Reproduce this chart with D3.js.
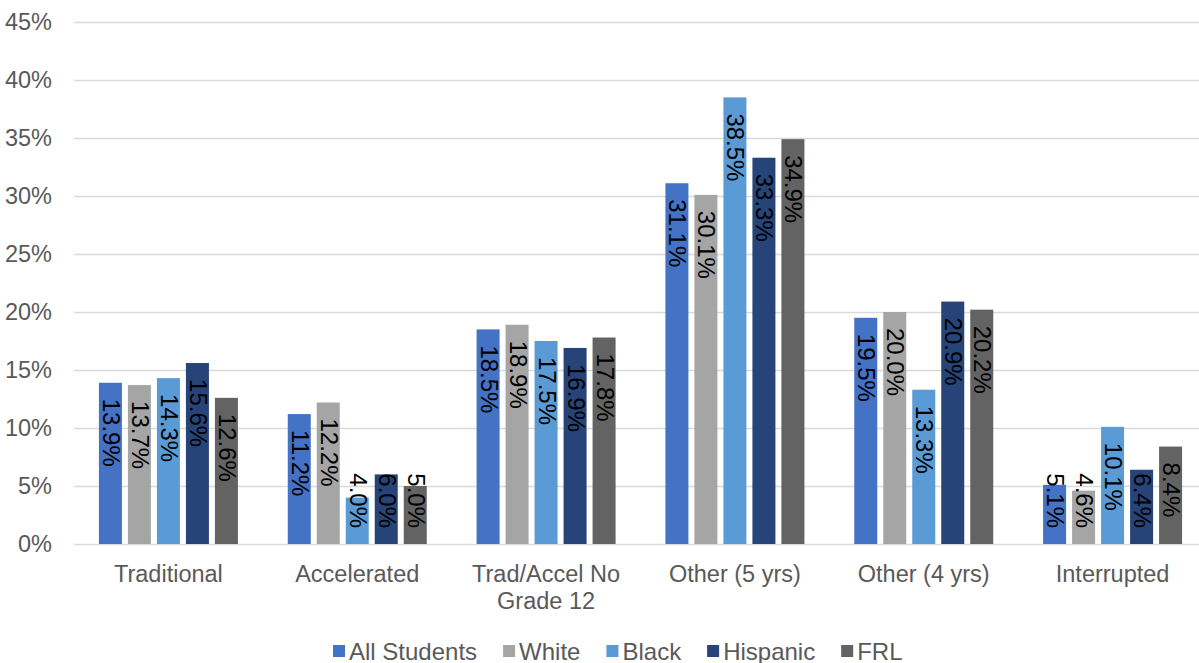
<!DOCTYPE html>
<html>
<head>
<meta charset="utf-8">
<script src="https://cdn.jsdelivr.net/npm/d3@7/dist/d3.min.js"></script>
<style>
  html, body { margin: 0; padding: 0; background: #fff; }
  svg { display: block; font-family: "Liberation Sans", Arial, sans-serif; }
</style>
</head>
<body>
<svg id="chart" width="1199" height="663"></svg>
<script>
(function () {
  'use strict';

  var categories = ['Traditional', 'Accelerated', 'Trad/Accel No Grade 12', 'Other (5 yrs)', 'Other (4 yrs)', 'Interrupted'];
  var seriesNames = ['All Students', 'White', 'Black', 'Hispanic', 'FRL'];
  var allStudents = [13.9, 11.2, 18.5, 31.1, 19.5, 5.1];
  var white = [13.7, 12.2, 18.9, 30.1, 20.0, 4.6];
  var black = [14.3, 4.0, 17.5, 38.5, 13.3, 10.1];
  var hispanic = [15.6, 6.0, 16.9, 33.3, 20.9, 6.4];
  var frl = [12.6, 5.0, 17.8, 34.9, 20.2, 8.4];
  var yTicks = [0, 5, 10, 15, 20, 25, 30, 35, 40, 45];

  var seriesValues = [allStudents, white, black, hispanic, frl];
  var colors = ['#4472C4', '#A5A5A5', '#5B9BD5', '#264478', '#636363'];

  var svg = d3.select('#chart');
  var left = 74, right = 1207, top = 22, bottom = 544;

  var y = d3.scaleLinear().domain([0, 45]).range([bottom, top]);
  var x0 = d3.scaleBand().domain(categories).range([left, right]).padding(0);
  var groupW = 139;
  var x1 = d3.scaleBand().domain(seriesNames).range([0, groupW])
    .paddingInner(6 / 29).paddingOuter(0);
  var groupOff = (x0.bandwidth() - groupW) / 2;

  // gridlines + y labels
  var yAxis = svg.append('g')
    .attr('transform', 'translate(' + left + ',0)')
    .call(d3.axisLeft(y).tickValues(yTicks)
      .tickSize(-(right - left)).tickPadding(22)
      .tickFormat(function (d) { return d + '%'; }));
  yAxis.select('.domain').remove();
  yAxis.selectAll('.tick line').attr('stroke', '#D9D9D9').attr('stroke-width', 1.3);
  yAxis.selectAll('.tick text')
    .attr('fill', '#595959').attr('font-size', '23.5px')
    .attr('font-family', '"Liberation Sans", Arial, sans-serif');

  // bars
  var rows = categories.map(function (c, i) {
    return seriesNames.map(function (s, j) {
      return { cat: c, series: s, value: seriesValues[j][i], color: colors[j] };
    });
  });

  var groups = svg.append('g').selectAll('g')
    .data(rows)
    .enter()
    .append('g')
    .attr('transform', function (d, i) { return 'translate(' + (x0(categories[i]) + groupOff) + ',0)'; });

  groups.selectAll('rect')
    .data(function (d) { return d; })
    .enter()
    .append('rect')
    .attr('x', function (d) { return x1(d.series); })
    .attr('y', function (d) { return y(d.value); })
    .attr('width', x1.bandwidth())
    .attr('height', function (d) { return y(0) - y(d.value); })
    .attr('fill', function (d) { return d.color; });

  var fmt = d3.format('.1f');
  groups.selectAll('text')
    .data(function (d) { return d; })
    .enter()
    .append('text')
    .attr('font-size', '24px')
    .attr('fill', '#000')
    .attr('dominant-baseline', 'central')
    .text(function (d) { return fmt(d.value) + '%'; })
    .attr('transform', function (d) {
      var len = this.getComputedTextLength();
      var start = Math.min(y(d.value) + 16, bottom - 16 - len);
      var cx = x1(d.series) + x1.bandwidth() / 2 + 1;
      return 'translate(' + cx + ',' + start + ') rotate(90)';
    });

  // category labels, wrapped to the band width
  var xAxis = svg.append('g').attr('class', 'xlabels');
  categories.forEach(function (c) {
    var cx = x0(c) + x0.bandwidth() / 2;
    var t = xAxis.append('text')
      .attr('x', cx)
      .attr('y', 582)
      .attr('text-anchor', 'middle')
      .attr('font-size', '23.5px')
      .attr('fill', '#595959');
    var words = c.split(' ');
    var line = [];
    var tspan = t.append('tspan').attr('x', cx).attr('dy', 0);
    words.forEach(function (w) {
      line.push(w);
      tspan.text(line.join(' '));
      if (tspan.node().getComputedTextLength() > 165 && line.length > 1) {
        line.pop();
        tspan.text(line.join(' '));
        line = [w];
        tspan = t.append('tspan').attr('x', cx).attr('dy', 27).text(w);
      }
    });
  });

  // legend
  var legend = svg.append('g').attr('transform', 'translate(333,651)');
  var lx = 0;
  seriesNames.forEach(function (s, j) {
    var item = legend.append('g').attr('transform', 'translate(' + lx + ',0)');
    item.append('rect')
      .attr('x', 0).attr('y', -6).attr('width', 12).attr('height', 12)
      .attr('fill', colors[j]);
    var t = item.append('text')
      .attr('x', 16).attr('y', 0)
      .attr('dominant-baseline', 'central')
      .attr('font-size', '24px')
      .attr('fill', '#595959')
      .text(s);
    lx += 16 + t.node().getComputedTextLength() + 26;
  });
})();
</script>
</body>
</html>
